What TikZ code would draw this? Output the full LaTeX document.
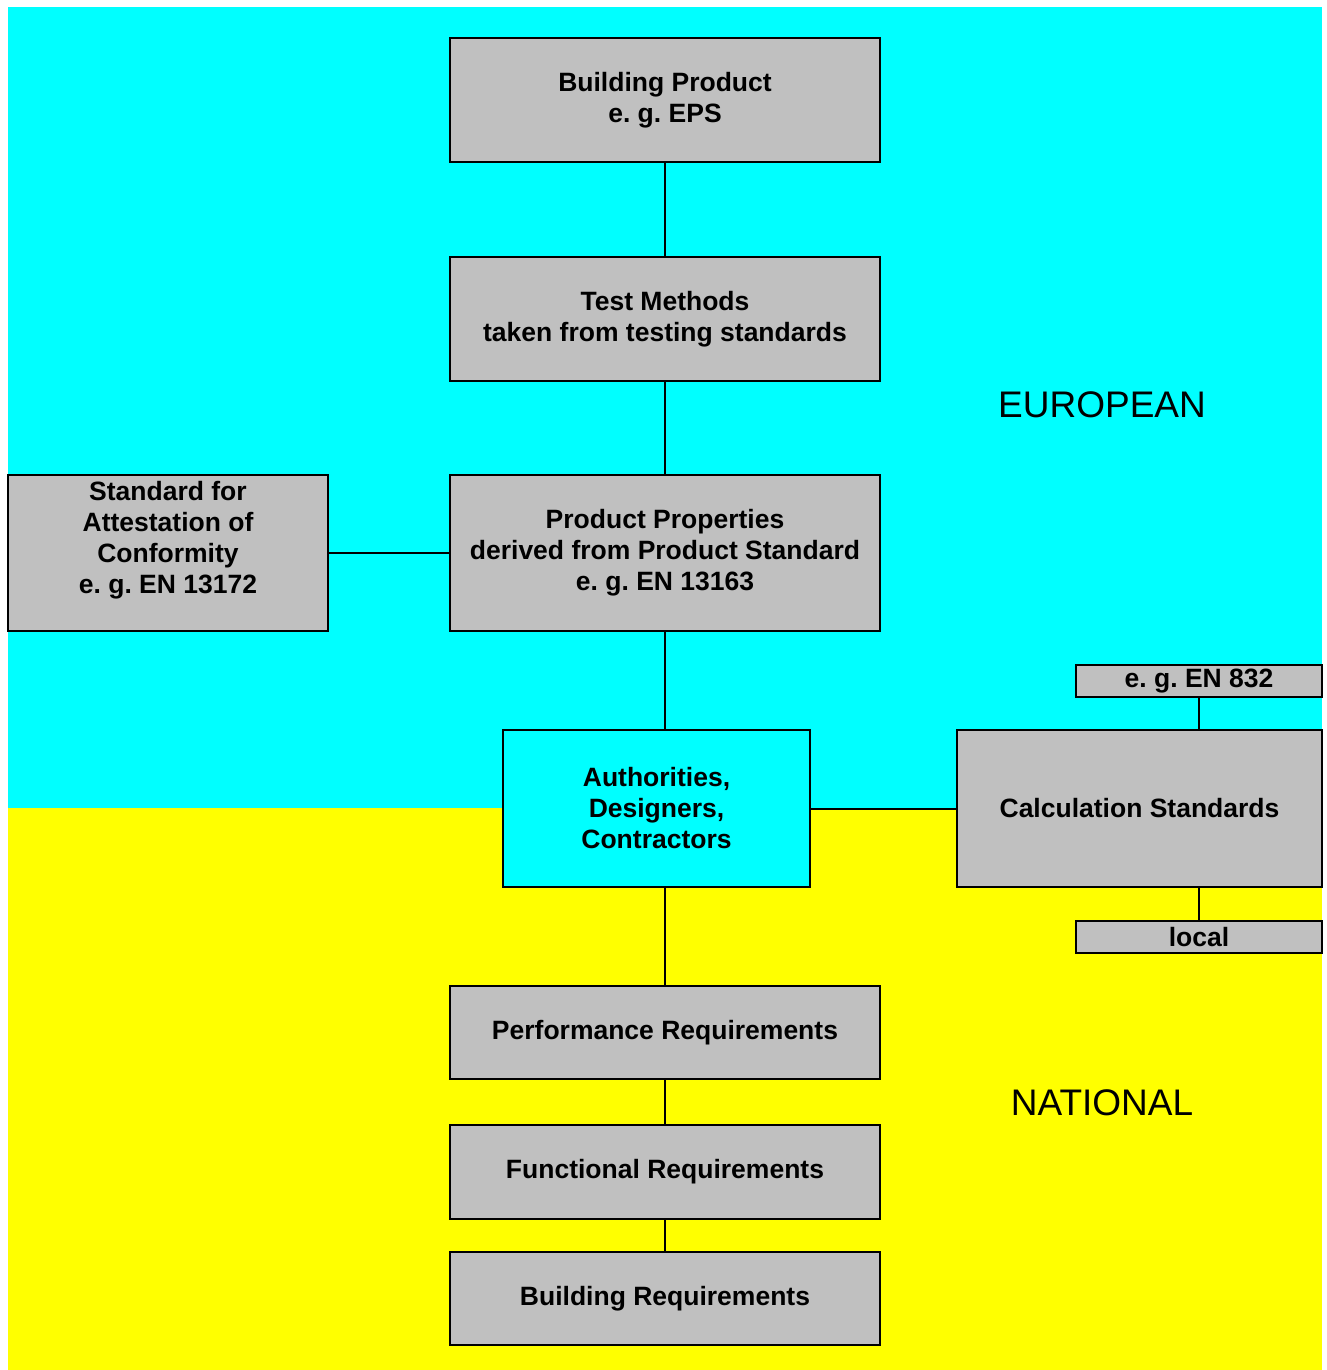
\documentclass[tikz,border=0pt]{standalone}
\usepackage{fontspec}
\setmainfont{Liberation Sans}
\definecolor{cy}{HTML}{00FFFF}
\definecolor{ye}{HTML}{FFFF00}
\definecolor{gr}{HTML}{C0C0C0}
\frenchspacing
\begin{document}
\begin{tikzpicture}[x=1pt,y=-1pt,
  box/.style={draw=black, line width=2pt, fill=gr, align=center, inner sep=0pt,
    font=\fontsize{26.5}{31}\selectfont\bfseries},
  conn/.style={draw=black, line width=2pt},
  region/.style={font=\fontsize{37}{40}\selectfont}]
\useasboundingbox (0,0) rectangle (1326,1370);
\fill[cy] (8,7) rectangle (1322,808);
\fill[ye] (8,808) rectangle (1322,1370);
% nodes
\node[box, minimum width=430pt, minimum height=124pt] (bp) at (665,100) {Building Product\\e. g. EPS};
\node[box, minimum width=430pt, minimum height=124pt] (tm) at (665,319) {Test Methods\\taken from testing standards};
\node[box, minimum width=430pt, minimum height=156pt] (pp) at (665,553) {Product Properties\\derived from Product Standard\\e. g. EN 13163};
\node[box, minimum width=320pt, minimum height=156pt] (att) at (168,553) {Standard for\\Attestation of\\Conformity\\e. g. EN 13172\\\mbox{}};
\node[box, fill=cy, minimum width=307pt, minimum height=157pt] (auth) at (656.5,808.5) {Authorities,\\Designers,\\Contractors};
\node[box, minimum width=365pt, minimum height=157pt] (calc) at (1139.5,808.5) {Calculation Standards};
\node[box, minimum width=246pt, minimum height=32pt] (en) at (1199,681) {e. g. EN 832};
\node[box, minimum width=246pt, minimum height=32pt] (loc) at (1199,937) {local};
\node[box, minimum width=430pt, minimum height=93pt] (perf) at (665,1032.5) {Performance Requirements};
\node[box, minimum width=430pt, minimum height=94pt] (func) at (665,1172) {Functional Requirements};
\node[box, minimum width=430pt, minimum height=93pt] (breq) at (665,1298.5) {Building Requirements};
\node[region] (eu) at (1102,405) {EUROPEAN};
\node[region] (na) at (1102,1103) {NATIONAL};
% connectors
\draw[conn] (bp) -- (tm);
\draw[conn] (tm) -- (pp);
\draw[conn] (att) -- (pp);
\draw[conn] (pp.south) -- (pp.south |- auth.north);
\draw[conn] (perf.north |- auth.south) -- (perf.north);
\draw[conn] (auth) -- (calc);
\draw[conn] (en.south) -- (en.south |- calc.north);
\draw[conn] (en.south |- calc.south) -- (loc.north);
\draw[conn] (perf) -- (func);
\draw[conn] (func) -- (breq);
\end{tikzpicture}
\end{document}
